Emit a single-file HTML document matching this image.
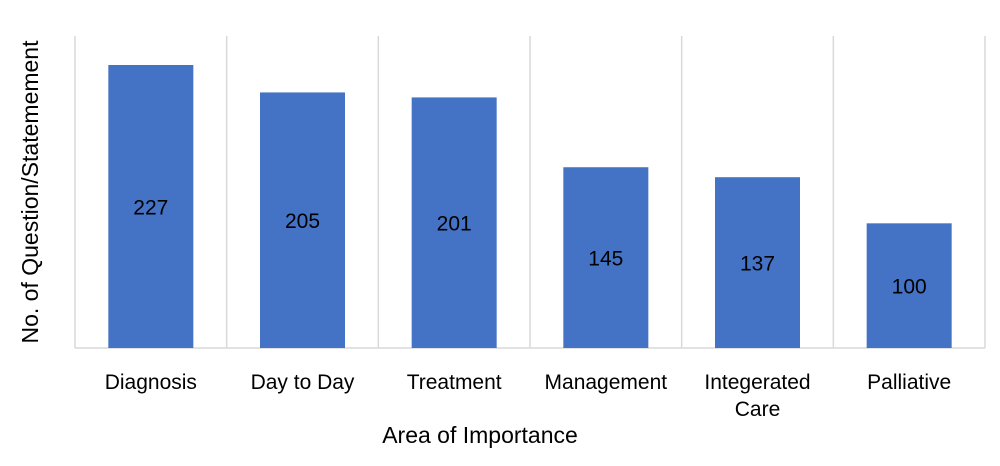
<!DOCTYPE html>
<html><head><meta charset="utf-8"><style>
body{margin:0;background:#fff;}
svg text{font-family:"Liberation Sans",sans-serif;fill:#000;}
</style></head><body>
<svg id="chart" width="1000" height="461" xmlns="http://www.w3.org/2000/svg">
<g id="grid"></g><g id="bars"></g><g id="labels"></g>
<text transform="translate(38,192) rotate(-90)" text-anchor="middle" font-size="23">No. of Question/Statemement</text>
<text x="480" y="443" text-anchor="middle" font-size="23">Area of Importance</text>
</svg>
<script>
const categories=[["Diagnosis"],["Day to Day"],["Treatment"],["Management"],["Integerated","Care"],["Palliative"]];
const values=[227,205,201,145,137,100];
const x0=75,x1=985,yBase=348,yTop=36,scale=283/227;
const bw=(x1-x0)/categories.length;
const xPos=i=>x0+bw*i;
const yPos=v=>yBase-v*scale;
const ns="http://www.w3.org/2000/svg";
const grid=document.getElementById('grid'),bars=document.getElementById('bars'),labels=document.getElementById('labels');
function mk(tag,attrs,parent){const e=document.createElementNS(ns,tag);for(const k in attrs)e.setAttribute(k,attrs[k]);parent.appendChild(e);return e;}
for(let i=0;i<=categories.length;i++){
 const l=mk('line',{x1:xPos(i),x2:xPos(i),y1:yTop,y2:yBase,stroke:'#d9d9d9','stroke-width':1.5},grid);
 
 
}
const ax=mk('line',{x1:x0,x2:x1,y1:yBase,y2:yBase,stroke:'#d9d9d9','stroke-width':1.5},grid);


values.forEach((v,i)=>{
 const cx=xPos(i)+bw/2,w=85;
 const r=mk('rect',{x:cx-w/2,y:yPos(v),width:w,height:yBase-yPos(v),fill:'#4472c4'},bars);
 
 
 const t=mk('text',{x:cx,y:(yPos(v)+yBase)/2+8,'text-anchor':'middle','font-size':21},labels);
 t.textContent=v;
 
 
 categories[i].forEach((s,j)=>{
  const c=mk('text',{x:cx,y:389+j*27,'text-anchor':'middle','font-size':21},labels);
  c.textContent=s;
  
  
 });
});
</script>
</body></html>
